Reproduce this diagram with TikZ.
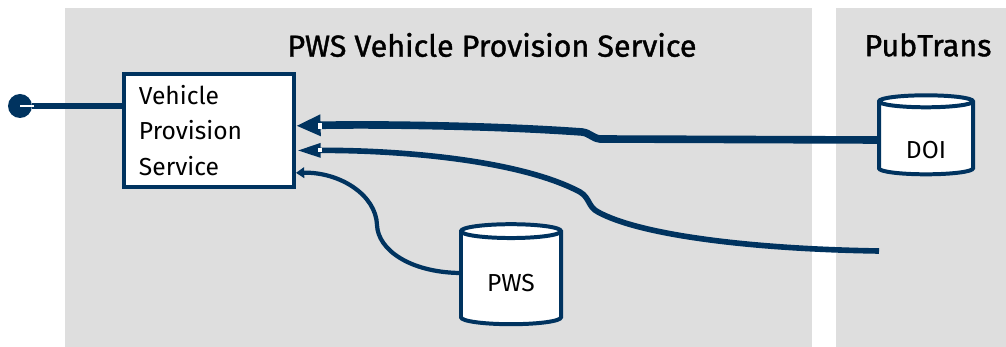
\documentclass[tikz,border=0pt]{standalone}
\usepackage{fontspec}
\setmainfont{Fira Sans}
\newfontfamily\titlefont{Fira Sans}[BoldFont={Fira Sans},BoldFeatures={FakeBold=1.2}]
\usetikzlibrary{arrows.meta}
\usetikzlibrary{shapes.geometric}
\definecolor{pwsblue}{HTML}{00335F}
\definecolor{lanegray}{HTML}{DEDEDE}

\begin{document}
\begin{tikzpicture}[x=0.03cm,y=-0.03cm,
		lanetitle/.style={font=\titlefont\bfseries\fontsize{26}{28}\selectfont},
		svcbox/.style={draw=pwsblue,line width=3.4pt,fill=white,anchor=north west,
			text width=4.2cm,inner xsep=0.45cm,inner ysep=0pt,minimum height=3.39cm,
			align=left,font=\fontsize{21}{30.3}\selectfont},
		store/.style={cylinder,shape border rotate=90,draw=pwsblue,line width=3.4pt,
			fill=white,aspect=0.25,font=\fontsize{21}{22}\selectfont},
		flow/.style={draw=pwsblue},
		notch/.style={fill=white}]
		\useasboundingbox (0,0) rectangle (1006,347);
		
		% lanes
		\fill[lanegray] (65,8) rectangle (812,347);
		\fill[lanegray] (836,8) rectangle (1006,347);
		\node[lanetitle] (pwstitle) at (492,45) {PWS Vehicle Provision Service};
		\node[lanetitle] (pttitle) at (928,45) {PubTrans};
		
		\node[svcbox] (vps) at (122,72) {Vehicle\\Provision\\Service};
		\node[store,minimum width=2.82cm,minimum height=2.37cm,text height=31pt] (doi) at (926,140) {DOI};
		\node[store,minimum width=3cm,minimum height=3cm,text height=20pt] (pws) at (511,280) {PWS};
		\node[circle,fill=pwsblue,inner sep=0pt,minimum size=0.72cm] (port) at (20,106) {};
		\coordinate (pubin) at (879,251);
		
		% port
		\draw[pwsblue,line width=4.6pt] (port.east) -- (port.east -| vps.west);
		\draw[white,line width=2pt] (port.center) -- ([xshift=0.06cm]port.east);
		
		% flows into the service
		\draw[flow,line width=6.5pt,-{Triangle[length=21pt,width=17pt]}] (doi.west)
			-- (600,139) .. controls (592,138) and (590,133) .. (582,132)
			.. controls (500,126) and (380,124) .. ([yshift=0.14cm]vps.east);
		\draw[flow,line width=4.8pt,-{Triangle[length=21pt,width=11pt]}] (pubin)
			.. controls (750,249) and (640,235) .. (598,212)
			.. controls (588,207) and (590,198) .. (580,192)
			.. controls (520,160) and (400,150) .. ([yshift=-0.6cm]vps.east);
		\draw[flow,line width=3.6pt,-{Triangle[length=7pt,width=9pt]}] ([yshift=0.21cm]pws.west)
			.. controls (410,272) and (378,250) .. (377,225)
			.. controls (376,195) and (340,172) .. ([yshift=-1.27cm]vps.east);
		\fill[notch] ([shift={(0.66cm,0.05cm)}]vps.east) rectangle ([shift={(0.78cm,0.23cm)}]vps.east);
		\fill[notch] ([shift={(0.66cm,-0.66cm)}]vps.east) rectangle ([shift={(0.77cm,-0.54cm)}]vps.east);
	\end{tikzpicture}
\end{document}
